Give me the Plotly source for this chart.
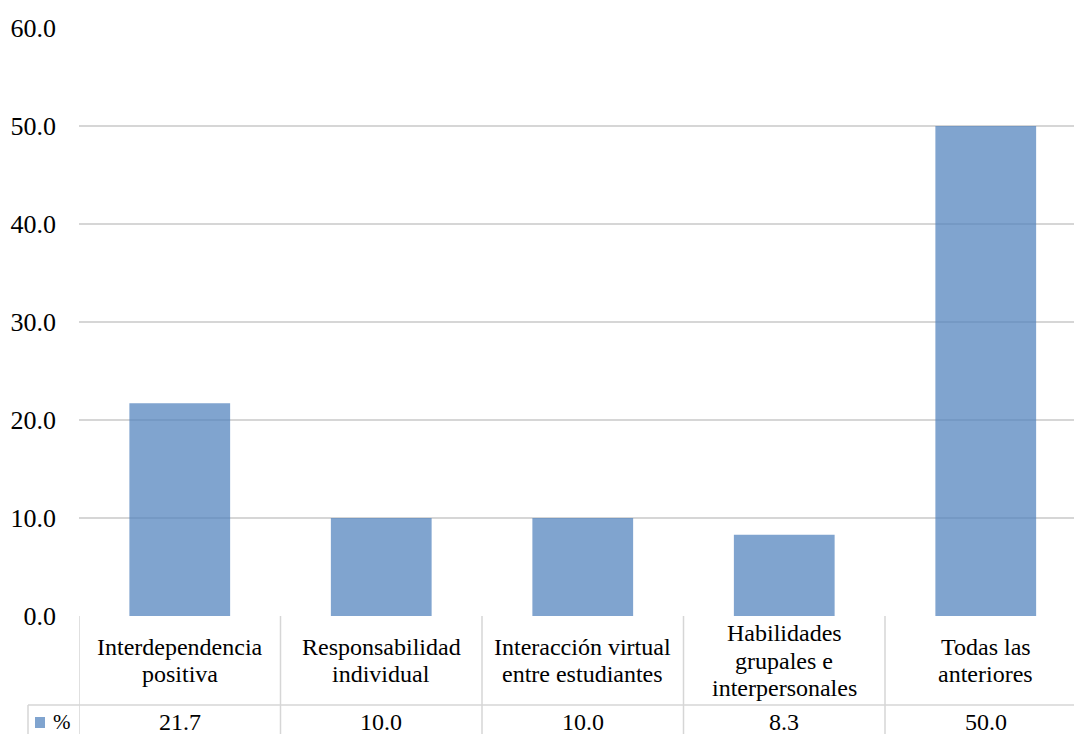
import plotly.graph_objects as go

# Survey results: share of respondents per cooperative-learning element
categorias = [
    "Interdependencia<br>positiva",
    "Responsabilidad<br>individual",
    "Interacción virtual<br>entre estudiantes",
    "Habilidades<br>grupales e<br>interpersonales",
    "Todas las<br>anteriores",
]
porcentajes = [21.7, 10.0, 10.0, 8.3, 50.0]
serie = "%"
ticks_y = [0, 10, 20, 30, 40, 50, 60]

W, H = 1074, 734
M_L, M_T, M_B = 79, 28, 118
ROW1_BOTTOM = 705          # pixel row where the data-table header ends
PLOT_H = H - M_T - M_B
PLOT_W = W - M_L
CAT_PX = 201.5             # pixel width of one category slot
LINE_PX = 27.5             # line pitch of the wrapped header labels

FONT = "Times New Roman"
BAR_COLOR = "rgba(79,129,189,0.72)"
GRID = "#D6D6D6"


def py(pixel_y):
    """Convert a window pixel row to paper y coordinate."""
    return (H - M_B - pixel_y) / PLOT_H


def px(pixel_x):
    """Convert a window pixel column to paper x coordinate."""
    return (pixel_x - M_L) / PLOT_W


x_idx = list(range(len(categorias)))
x_max = -0.5 + PLOT_W / CAT_PX

fig = go.Figure(
    go.Bar(
        x=x_idx,
        y=porcentajes,
        name=serie,
        marker=dict(color=BAR_COLOR, line=dict(width=0)),
        hoverinfo="skip",
    )
)

shapes = []
annotations = []

# Data table: vertical separators between categories
for k in range(len(categorias) + 1):
    shapes.append(dict(type="line", xref="x", yref="paper",
                       x0=k - 0.5, x1=k - 0.5, y0=0, y1=py(H + 5),
                       line=dict(color=GRID, width=1.5)))
# Horizontal line below the category header row
shapes.append(dict(type="line", xref="paper", yref="paper",
                   x0=px(28), x1=1.05, y0=py(ROW1_BOTTOM), y1=py(ROW1_BOTTOM),
                   line=dict(color=GRID, width=1.5)))
# Left border of the legend key cell
shapes.append(dict(type="line", xref="paper", yref="paper",
                   x0=px(28), x1=px(28), y0=py(ROW1_BOTTOM), y1=py(H + 5),
                   line=dict(color=GRID, width=1.5)))
# Legend key swatch
shapes.append(dict(type="rect", xref="paper", yref="paper",
                   x0=px(35), x1=px(45), y0=py(728), y1=py(717),
                   fillcolor=BAR_COLOR, line=dict(width=0)))

row1_mid = (H - M_B + ROW1_BOTTOM) / 2
row2_mid = py(721.5)

for i, (cat, val) in enumerate(zip(categorias, porcentajes)):
    lines = cat.split("<br>")
    first = row1_mid - (len(lines) - 1) * LINE_PX / 2
    for j, line in enumerate(lines):
        annotations.append(dict(x=i, y=py(first + j * LINE_PX),
                                xref="x", yref="paper",
                                text=line, showarrow=False, xanchor="center",
                                yanchor="middle",
                                font=dict(family=FONT, size=24, color="#000")))
    annotations.append(dict(x=i, y=row2_mid, xref="x", yref="paper",
                            text=f"{val:.1f}", showarrow=False,
                            xanchor="center", yanchor="middle",
                            font=dict(family=FONT, size=24, color="#000")))

annotations.append(dict(x=px(51), y=row2_mid, xref="paper", yref="paper",
                        text=serie, showarrow=False, xanchor="left",
                        yanchor="middle",
                        font=dict(family=FONT, size=21, color="#000")))

fig.update_layout(
    width=W, height=H,
    margin=dict(l=M_L, r=0, t=M_T, b=M_B, pad=0),
    paper_bgcolor="white", plot_bgcolor="white",
    bargap=0.5,
    showlegend=False,
    font=dict(family=FONT, size=24, color="#000"),
    xaxis=dict(range=[-0.5, x_max], showticklabels=False, showgrid=False,
               zeroline=False, showline=False, ticks=""),
    yaxis=dict(range=[0, 60], tickvals=ticks_y,
               ticktext=[f"{v:.1f}" for v in ticks_y],
               showgrid=True, gridcolor=GRID, gridwidth=1.5,
               zeroline=False, showline=False, ticks="",
               ticklabelstandoff=22,
               tickfont=dict(family=FONT, size=26, color="#000")),
    shapes=shapes,
    annotations=annotations,
)

fig.write_html("out.html")
